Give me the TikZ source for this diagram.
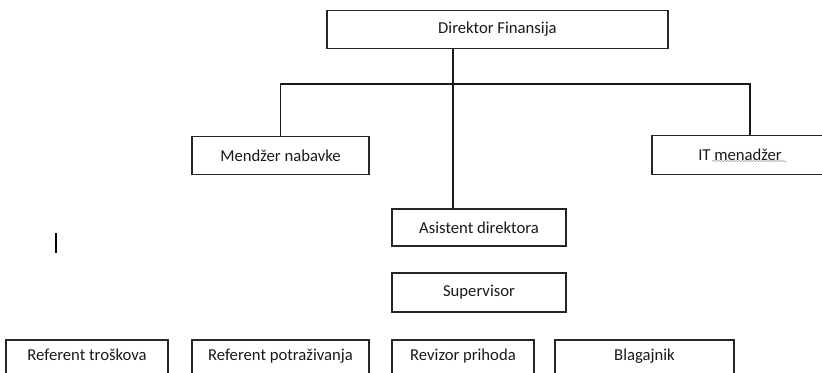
\documentclass[tikz,border=0pt]{standalone}
\usepackage{fontspec}
\setmainfont{Carlito}
\usepackage{tikz}
\usetikzlibrary{positioning,calc}
\usetikzlibrary{decorations.pathmorphing}

\begin{document}
\begin{tikzpicture}[x=0.75pt, y=-0.75pt,
    box/.style={draw=black!85, line width=0.8pt, inner sep=0pt, font=\fontsize{12.5}{14}\selectfont, text=black!90},
    link/.style={draw=black!90, line width=0.8pt}]
    \useasboundingbox (0,0) rectangle (822,373);
    \node[box, minimum width=255.75pt, minimum height=28.5pt] (dir) at (497.5,29.5) {Direktor Finansija};
    \node[box, minimum width=132.75pt, minimum height=28.5pt] (nab) at (280.5,155.5) {Mendžer nabavke};
    \node[box, minimum width=132pt, minimum height=29.25pt] (it) at (740,155) {IT menadžer};
    \node[box, minimum width=130.5pt, minimum height=27.75pt] (asis) at (479,227.5) {Asistent direktora};
    \node[box, minimum width=130.5pt, minimum height=29.25pt] (sup) at (479,292.5) {Supervisor};
    \node[box, minimum width=121.5pt, minimum height=28.5pt, text depth=6pt] (trs) at (87,359) {Referent troškova};
    \node[box, minimum width=132.75pt, minimum height=28.5pt, text depth=6pt] (pot) at (280.5,359) {Referent potraživanja};
    \node[box, minimum width=106.5pt, minimum height=28.5pt, text depth=6pt] (rev) at (463,359) {Revizor prihoda};
    \node[box, minimum width=134.25pt, minimum height=28.5pt, text depth=6pt] (bla) at (644.5,359) {Blagajnik};
    \coordinate (split) at (453,84);
    \coordinate (itdrop) at (750,84);
    \draw[link] (dir.south -| split) -- (asis.north -| split);
    \draw[link] (nab.north) |- (split) -- (itdrop) -- (it.north -| itdrop);
    \draw[gray!70, line width=0.4pt, decorate, decoration={snake, amplitude=0.6pt, segment length=2.2pt}] (712,161) -- (786,161);
    \draw[black, line width=1.2pt] (56,233) -- (56,253);
\end{tikzpicture}
\end{document}
